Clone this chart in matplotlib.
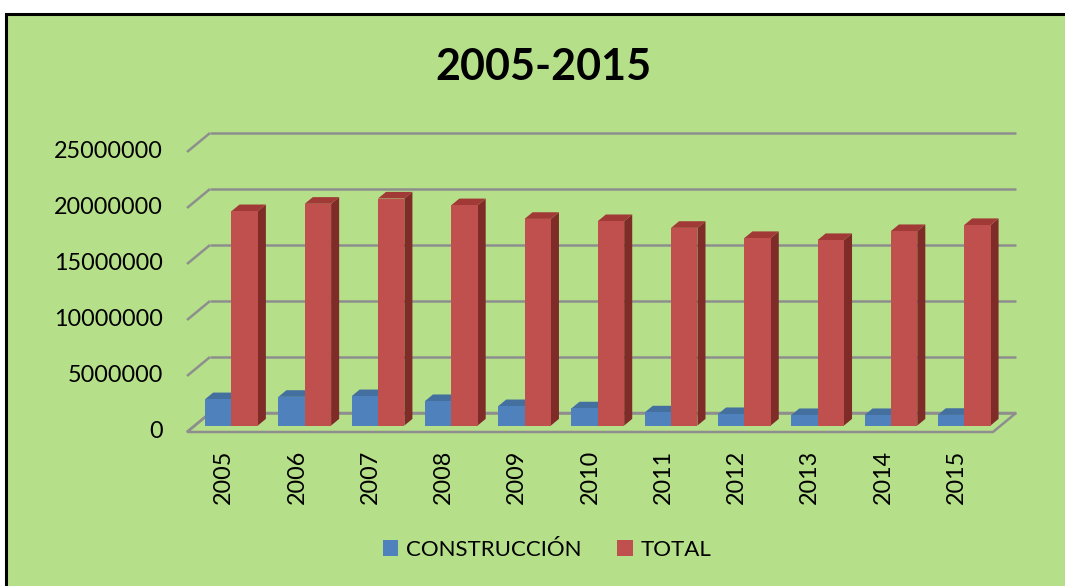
import matplotlib
matplotlib.use("Agg")
import matplotlib.pyplot as plt
from matplotlib.patches import Rectangle, Polygon, Patch

# ---- data ----
years = ["2005", "2006", "2007", "2008", "2009", "2010", "2011", "2012", "2013", "2014", "2015"]
construccion = [2350000, 2560000, 2620000, 2180000, 1730000, 1530000, 1170000, 1020000, 930000, 930000, 950000]
total = [19140000, 19800000, 20270000, 19670000, 18450000, 18250000, 17650000, 16740000, 16560000, 17360000, 17900000]
series_names = ["CONSTRUCCIÓN", "TOTAL"]
yticks = [0, 5000000, 10000000, 15000000, 20000000, 25000000]
title = "2005-2015"

# ---- layout (pixel geometry of the oblique projection) ----
W, H = 1065, 586
X0PX, CATPX = 187.0, 73.27     # front-left floor corner, px per category
Y0PX, PXPERM = 432.0, 11.2     # front zero line, px per 1e6
DXPX, DYPX = 23.0, 19.0        # depth offset (px) of the back wall

DX = DXPX / CATPX
DY = DYPX / PXPERM * 1e6
D0, DD = 0.34, 0.35            # bar front depth fraction, bar depth fraction
BW = 0.36                      # bar width (category units)
G0 = 0.14                      # group start inside category

GREEN = "#B6DF8A"
GRID = "#8E8E8E"
FRONT = ["#4F81BD", "#C0504D"]
SIDE = ["#385D8A", "#7F2C29"]
TOP = ["#44709F", "#A13A37"]

fig = plt.figure(figsize=(W / 100, H / 100), dpi=100)
fig.patch.set_facecolor("white")
fig.patches.append(Rectangle((6 / W, -0.05), 1.2, (H - 14) / H + 0.05,
                             transform=fig.transFigure, facecolor=GREEN,
                             edgecolor="black", linewidth=2.2, zorder=-5))

ax = fig.add_axes([0, 0, 1, 1], zorder=5)
ax.set_xlim((0 - X0PX) / CATPX, (W - X0PX) / CATPX)
ax.set_ylim((Y0PX - H) / PXPERM * 1e6, Y0PX / PXPERM * 1e6)
ax.axis("off")
ax.patch.set_alpha(0)

n = len(years)

# floor
ax.add_patch(Polygon([(0, 0), (n, 0), (n + DX, DY), (DX, DY)], closed=True,
                     facecolor=GREEN, edgecolor=GRID, linewidth=1.8, zorder=1))
# gridlines: back wall + left wall diagonals
for v in yticks:
    ax.plot([DX, n + DX], [v + DY, v + DY], color=GRID, lw=1.8, zorder=2,
            solid_capstyle="butt")
    ax.plot([0, DX], [v, v + DY], color=GRID, lw=1.8, zorder=2,
            solid_capstyle="butt")

# 3D-looking bars
for i in range(n):
    for s, vals in enumerate([construccion, total]):
        v = vals[i]
        x0 = i + G0 + s * BW + D0 * DX
        y0 = D0 * DY
        x1 = x0 + BW
        ddx, ddy = DD * DX, DD * DY
        ax.add_patch(Polygon([(x1, y0), (x1 + ddx, y0 + ddy), (x1 + ddx, y0 + ddy + v), (x1, y0 + v)],
                             closed=True, facecolor=SIDE[s], edgecolor="none", zorder=3))
        ax.add_patch(Polygon([(x0, y0 + v), (x1, y0 + v), (x1 + ddx, y0 + v + ddy), (x0 + ddx, y0 + v + ddy)],
                             closed=True, facecolor=TOP[s], edgecolor="none", zorder=3))
        ax.add_patch(Rectangle((x0, y0), BW, v, facecolor=FRONT[s], edgecolor="none", zorder=3))

# y tick labels
for v in yticks:
    ax.text((163 - X0PX) / CATPX, v, f"{v}", ha="right", va="center",
            fontsize=16.8, family=["Lato", "DejaVu Sans"], color="black")

# x tick labels
for i, yr in enumerate(years):
    ax.text(i + 0.5, (Y0PX - 450) / PXPERM * 1e6, yr, rotation=90, ha="center", va="top",
            fontsize=16.8, family=["Lato", "DejaVu Sans"], color="black")

# title
fig.text(543 / W, 1 - 67 / H, title, ha="center", va="center", fontsize=31,
         fontweight="bold", family=["Lato", "DejaVu Sans"])

# legend
handles = [Patch(facecolor=FRONT[0]), Patch(facecolor=FRONT[1])]
fig.legend(handles, series_names, loc="center", bbox_to_anchor=(547 / W, 1 - 549.5 / H),
           ncol=2, frameon=False, prop={"family": ["Lato", "DejaVu Sans"], "size": 16},
           handlelength=0.7, handleheight=0.7, handletextpad=0.35, columnspacing=1.6,
           borderpad=0)

fig.savefig("out.png", dpi=100, facecolor=fig.get_facecolor())
